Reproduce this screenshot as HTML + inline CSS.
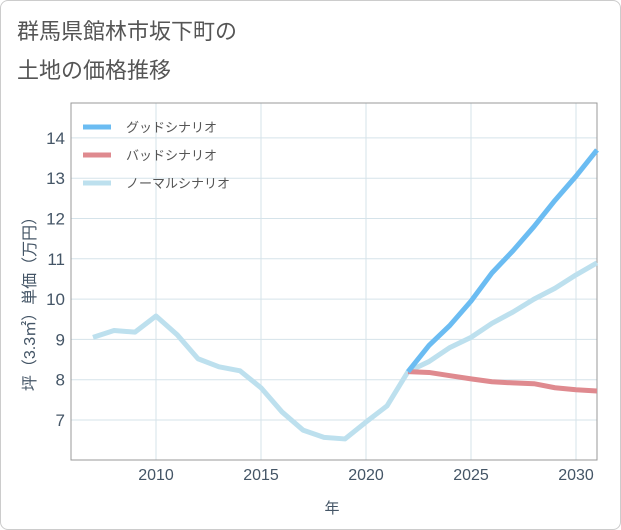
<!DOCTYPE html>
<html><head><meta charset="utf-8"><style>
body{margin:0;background:#fff;font-family:"Liberation Sans","Noto Sans CJK JP",sans-serif;}
#wrap{position:relative;width:619px;height:528px;border:1px solid #ccc;border-radius:8px;background:#fff;}
</style></head><body>
<div id="wrap">
<svg id="chart" width="621" height="530" style="position:absolute;left:-1px;top:-1px">
<text x="17" y="39" font-size="22" fill="#555">群馬県館林市坂下町の</text>
<text x="17" y="78" font-size="22" fill="#555">土地の価格推移</text>
<g id="grid"></g><g id="axes"></g><g id="series"></g>
<g id="legend">
<line x1="83" y1="127" x2="111" y2="127" stroke="#6bbcf2" stroke-width="5"/>
<text x="126" y="132" font-size="13" fill="#555">グッドシナリオ</text>
<line x1="83" y1="155" x2="111" y2="155" stroke="#df8a8f" stroke-width="5"/>
<text x="126" y="160" font-size="13" fill="#555">バッドシナリオ</text>
<line x1="83" y1="183" x2="111" y2="183" stroke="#bde0ee" stroke-width="5"/>
<text x="126" y="188" font-size="13" fill="#555">ノーマルシナリオ</text>
</g>
<text x="332" y="513" font-size="15" fill="#445566" text-anchor="middle">年</text>
<text transform="translate(35,300) rotate(-90)" font-size="16" fill="#445566" text-anchor="middle">坪（3.3㎡）単価（万円）</text>
</svg>
</div>
<script>
const xTicks=[2010,2015,2020,2025,2030];
const yTicks=[7,8,9,10,11,12,13,14];
const normalYears=[2007,2008,2009,2010,2011,2012,2013,2014,2015,2016,2017,2018,2019,2020,2021,2022,2023,2024,2025,2026,2027,2028,2029,2030,2031];
const normalValues=[9.05,9.22,9.18,9.58,9.12,8.52,8.32,8.22,7.8,7.2,6.75,6.57,6.53,6.95,7.35,8.2,8.45,8.8,9.05,9.4,9.68,10.0,10.27,10.6,10.9];
const futureYears=[2022,2023,2024,2025,2026,2027,2028,2029,2030,2031];
const goodValues=[8.2,8.85,9.35,9.95,10.65,11.2,11.8,12.45,13.05,13.7];
const badValues=[8.2,8.18,8.1,8.02,7.95,7.92,7.9,7.8,7.75,7.72];
const L=71,R=597,T=103,B=460;
const x=y=>156+(y-2010)*21;
const yv=v=>420-(v-7)*40.3;
const NS='http://www.w3.org/2000/svg';
function mk(tag,attrs,parent){const e=document.createElementNS(NS,tag);for(const k in attrs)e.setAttribute(k,attrs[k]);document.getElementById(parent).appendChild(e);return e;}
xTicks.forEach(t=>{
 const l=mk('line',{x1:x(t),x2:x(t),y1:T,y2:B,stroke:'#d5e3ea','stroke-width':1},'grid');
 
 
 const tx=mk('text',{x:x(t),y:B+20,'font-size':16,fill:'#445566','text-anchor':'middle'},'axes');
 tx.textContent=t;
 
 
});
yTicks.forEach(t=>{
 const l=mk('line',{x1:L,x2:R,y1:yv(t),y2:yv(t),stroke:'#d5e3ea','stroke-width':1},'grid');
 
 
 const tx=mk('text',{x:L-6,y:yv(t)+6,'font-size':17,fill:'#445566','text-anchor':'end'},'axes');
 tx.textContent=t;
 
 
});
const fr=mk('rect',{x:L,y:T,width:R-L,height:B-T,fill:'none',stroke:'#999','stroke-width':1},'axes');


function line(years,vals,color,name){
 const p=mk('polyline',{points:years.map((yr,i)=>x(yr)+','+yv(vals[i])).join(' '),fill:'none',stroke:color,'stroke-width':5,'stroke-linejoin':'round','stroke-linecap':'butt'},'series');
 
 
}
line(normalYears,normalValues,'#bde0ee','normal-scenario-line');
line(futureYears,badValues,'#df8a8f','bad-scenario-line');
line(futureYears,goodValues,'#6bbcf2','good-scenario-line');
document.getElementById('chart').appendChild(document.getElementById('legend'));
</script>
</body></html>
